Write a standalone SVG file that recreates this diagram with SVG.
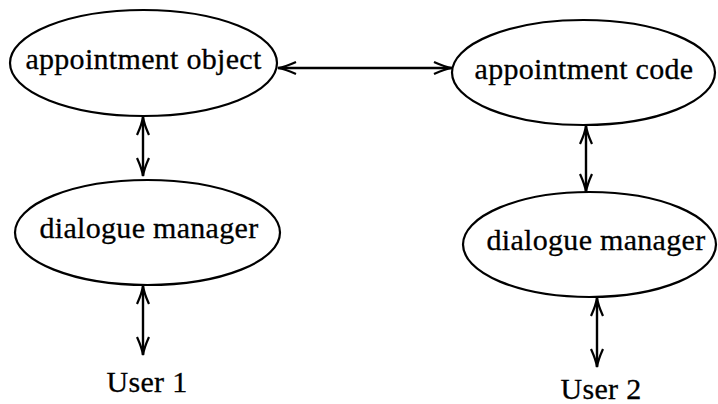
<svg xmlns="http://www.w3.org/2000/svg" width="718" height="404" viewBox="0 0 718 404">
<style>
.node ellipse{fill:none;stroke:#000;stroke-width:2.2}
text{font-family:"Liberation Serif","Times New Roman",serif;font-size:30px;fill:#000;text-anchor:middle;letter-spacing:0.3px;stroke:#000;stroke-width:0.3}
.conn line{stroke:#000;stroke-width:2.4;marker-start:url(#ah);marker-end:url(#ah)}
</style>
<defs>
<marker id="ah" viewBox="0 0 20 14" refX="19" refY="7" markerWidth="20" markerHeight="14" markerUnits="userSpaceOnUse" orient="auto-start-reverse">
<path d="M1,1 Q12,6 19,7 Q12,8 1,13" fill="none" stroke="#000" stroke-width="2.2"/>
</marker>
</defs>
<rect width="718" height="404" fill="#fff"/>
<g id="appointment-object" class="node">
<ellipse cx="143.5" cy="63" rx="133.5" ry="53"/>
<text x="143.5" y="69">appointment object</text>
</g>
<g id="appointment-code" class="node">
<ellipse cx="583.5" cy="72.5" rx="131.5" ry="52.5"/>
<text x="584" y="79">appointment code</text>
</g>
<g id="dialogue-manager-1" class="node">
<ellipse cx="147.5" cy="232.5" rx="132.5" ry="52.5"/>
<text x="149" y="238">dialogue manager</text>
</g>
<g id="dialogue-manager-2" class="node">
<ellipse cx="589.5" cy="244.5" rx="126.5" ry="52.5"/>
<text x="596" y="250">dialogue manager</text>
</g>
<g id="user-1" class="node">
<text x="147" y="392">User 1</text>
</g>
<g id="user-2" class="node">
<text x="601" y="399">User 2</text>
</g>
<g id="connectors" class="conn">
<line x1="278" y1="68" x2="452" y2="68"/>
<line x1="143" y1="117" x2="143" y2="176"/>
<line x1="143" y1="286" x2="143" y2="355"/>
<line x1="586" y1="126" x2="586" y2="192"/>
<line x1="597" y1="298" x2="597" y2="367"/>
</g>
</svg>
